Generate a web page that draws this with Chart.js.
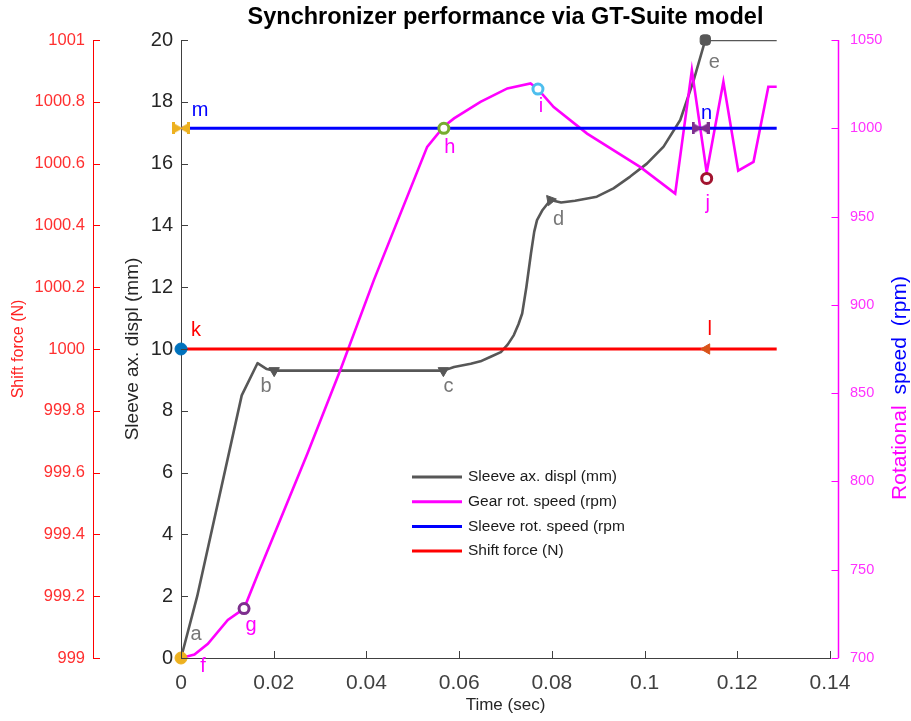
<!DOCTYPE html>
<html><head><meta charset="utf-8">
<script src="https://cdn.jsdelivr.net/npm/chart.js@4/dist/chart.umd.min.js"></script>
<style>html,body{margin:0;padding:0;background:#fff}</style>
</head><body>
<canvas id="c" width="911" height="721"></canvas>
<script>
// ---------------- DATA ----------------
const sleeveTime  = [0, 0.0035, 0.0131, 0.0165, 0.0185, 0.0201, 0.0566, 0.0589, 0.0625, 0.0646, 0.0668, 0.0690, 0.0705, 0.0718, 0.0728, 0.0736, 0.0745, 0.0755, 0.0762, 0.0768, 0.0780, 0.0797, 0.0820, 0.0850, 0.0897, 0.0933, 0.0969, 0.1005, 0.1041, 0.1077, 0.1106, 0.1131, 0.1285];
const sleeveDispl = [0, 2.0, 8.5, 9.54, 9.35, 9.3, 9.3, 9.42, 9.52, 9.6, 9.75, 9.9, 10.15, 10.45, 10.8, 11.15, 12.0, 13.1, 13.8, 14.17, 14.5, 14.82, 14.74, 14.8, 14.93, 15.2, 15.58, 16.0, 16.55, 17.41, 18.7, 20.0, 20.0];

const gearTime  = [0, 0.0029, 0.0058, 0.0101, 0.0136, 0.0165, 0.0201, 0.0273, 0.0345, 0.0416, 0.0531, 0.0567, 0.0589, 0.0646, 0.0704, 0.0754, 0.0770, 0.0804, 0.0876, 0.0991, 0.1066, 0.1102, 0.1134, 0.1170, 0.1202, 0.1235, 0.1267, 0.1285];
const gearSpeed = [700, 702, 708, 721.5, 728, 747, 770, 816, 864, 914, 989.5, 1001, 1005.6, 1015, 1022.6, 1025.4, 1022.2, 1012, 997, 978, 963, 1033, 975, 1026.3, 976, 981, 1023.5, 1023.5];

const sleeveSpeedTime = [0, 0.1285];
const sleeveSpeed     = [1000, 1000];

const shiftForceTime = [0, 0.1285];
const shiftForce     = [1000, 1000];

// annotated points: label, time, value, axis
const markerLabels = ['a', 'f', 'b', 'c', 'd', 'e', 'g', 'h', 'i', 'j', 'k', 'l', 'm', 'n'];
const markerTime   = [0, 0, 0.0201, 0.0566, 0.0797, 0.1131, 0.0136, 0.0567, 0.0770, 0.1134, 0, 0.1134, 0, 0.1121];
const markerValue  = [0, 700, 9.3, 9.3, 14.82, 20, 728, 1000, 1022.2, 971.6, 1000, 1000, 1000, 1000];
const markerAxis   = ['yL', 'yR', 'yL', 'yL', 'yL', 'yL', 'yR', 'yR', 'yR', 'yR', 'yF', 'yF', 'yR', 'yR'];

const legendLabels = ['Sleeve ax. displ (mm)', 'Gear rot. speed (rpm)', 'Sleeve rot. speed (rpm', 'Shift force (N)'];

// ---------------- STYLES ----------------
const GRAY = '#575757', MAG = '#ff00ff', BLUE = '#0000ff', RED = '#ff0000';
function bowtie(color){
  const c = document.createElement('canvas'); c.width = 18; c.height = 12;
  const g = c.getContext('2d'); g.fillStyle = color;
  g.beginPath(); g.moveTo(0,0); g.lineTo(9,5); g.lineTo(18,0); g.lineTo(18,12); g.lineTo(9,7); g.lineTo(0,12); g.closePath(); g.fill();
  g.fillRect(0,0,3,12); g.fillRect(15,0,3,12);
  return c;
}
const markerStyle = {
  a: {style:'circle', radius:0, color:'#EDB120', fill:'#EDB120', dx:15, dy:-24, tc:'#777777'},
  f: {style:'circle', radius:6, color:'#EDB120', fill:'#EDB120', dx:22, dy:8, tc:MAG},
  b: {style:'triangle', rot:180, radius:6, color:GRAY, fill:GRAY, dx:-8, dy:16, tc:'#777777'},
  c: {style:'triangle', rot:180, radius:6, color:GRAY, fill:GRAY, dx:5, dy:16, tc:'#777777'},
  d: {style:'triangle', rot:200, radius:6, color:GRAY, fill:GRAY, dx:8, dy:19, tc:'#777777'},
  e: {style:'rectRounded', radius:6, color:GRAY, fill:GRAY, dx:9, dy:22, tc:'#777777'},
  g: {style:'circle', radius:5, color:'#7E2F8E', fill:'#ffffff', bw:3, dx:7, dy:17, tc:MAG},
  h: {style:'circle', radius:5, color:'#77AC30', fill:'#ffffff', bw:3, dx:6, dy:19, tc:MAG},
  i: {style:'circle', radius:5, color:'#4DBEEE', fill:'#ffffff', bw:3, dx:3, dy:17, tc:MAG},
  j: {style:'circle', radius:5, color:'#A2142F', fill:'#ffffff', bw:3, dx:1, dy:25, tc:MAG},
  k: {style:'circle', radius:6, color:'#0072BD', fill:'#0072BD', dx:15, dy:-19, tc:RED},
  l: {style:'triangle', rot:-90, radius:6, color:'#D95319', fill:'#D95319', dx:3, dy:-20, tc:RED},
  m: {style:bowtie('#EDB120'), radius:8, color:'#EDB120', fill:'#EDB120', dx:19, dy:-18, tc:BLUE},
  n: {style:bowtie('#7E2F8E'), radius:8, color:'#7E2F8E', fill:'#7E2F8E', dx:6, dy:-15, tc:BLUE}
};

const zip = (xs, ys) => xs.map((x,i)=>({x, y: ys[i]}));

const datasets = [
  {label: legendLabels[0], data: zip(sleeveTime, sleeveDispl), yAxisID:'yL', showLine:true, borderColor:GRAY, borderWidth:2.6, pointRadius:0, tension:0, borderJoinStyle:'round', order:4},
  {label: legendLabels[1], data: zip(gearTime, gearSpeed), yAxisID:'yR', showLine:true, borderColor:MAG, borderWidth:2.6, pointRadius:0, tension:0, order:3},
  {label: legendLabels[2], data: zip(sleeveSpeedTime, sleeveSpeed), yAxisID:'yR', showLine:true, borderColor:BLUE, borderWidth:3, pointRadius:0, order:2},
  {label: legendLabels[3], data: zip(shiftForceTime, shiftForce), yAxisID:'yF', showLine:true, borderColor:RED, borderWidth:3, pointRadius:0, order:1}
];
markerLabels.forEach((lab, i) => {
  const s = markerStyle[lab];
  datasets.push({label: 'pt-' + lab, data:[{x:markerTime[i], y:markerValue[i]}], yAxisID:markerAxis[i],
    showLine:false, clip:false, pointStyle:s.style, pointRotation:s.rot||0, pointRadius:s.radius, pointBorderColor:s.color,
    pointBackgroundColor:s.fill, pointBorderWidth:s.bw||1, order:0});
});

// ---------------- PLUGINS ----------------
const decor = {
  id:'decor',
  afterDraw(chart){
    const ctx = chart.ctx, ca = chart.chartArea, L = 7;
    ctx.save();
    const sx = chart.scales.x;
    ctx.lineWidth = 1; ctx.strokeStyle = '#404040';
    sx.ticks.forEach(t=>{const p=Math.round(sx.getPixelForValue(t.value))+0.5; ctx.beginPath(); ctx.moveTo(p,ca.bottom); ctx.lineTo(p,ca.bottom-L); ctx.stroke();});
    const sl = chart.scales.yL;
    sl.ticks.forEach(t=>{const p=Math.round(sl.getPixelForValue(t.value))+0.5; ctx.beginPath(); ctx.moveTo(ca.left,p); ctx.lineTo(ca.left+L,p); ctx.stroke();});
    const sf = chart.scales.yF;
    ctx.strokeStyle = RED;
    sf.ticks.forEach(t=>{const p=Math.round(sf.getPixelForValue(t.value))+0.5; ctx.beginPath(); ctx.moveTo(sf.right,p); ctx.lineTo(sf.right+L,p); ctx.stroke();});
    const sr = chart.scales.yR, rx = ca.right + 8.5;
    ctx.strokeStyle = MAG; ctx.lineWidth = 1.5;
    ctx.beginPath(); ctx.moveTo(rx, sr.getPixelForValue(1050)); ctx.lineTo(rx, sr.getPixelForValue(700)); ctx.stroke();
    ctx.lineWidth = 1;
    sr.ticks.forEach(t=>{const p=Math.round(sr.getPixelForValue(t.value))+0.5; ctx.beginPath(); ctx.moveTo(rx,p); ctx.lineTo(rx-L,p); ctx.stroke();});
    // right axis title (two colours)
    ctx.font = '21px "Liberation Sans", Arial, sans-serif';
    ctx.translate(900, 388); ctx.rotate(-Math.PI/2);
    ctx.textBaseline = 'middle'; ctx.textAlign = 'left';
    const p1 = 'Rotational', p2 = 'speed', p3 = '(rpm)', gap = 11;
    const w1 = ctx.measureText(p1).width, w2 = ctx.measureText(p2).width, w3 = ctx.measureText(p3).width;
    let x0 = -(w1+w2+w3+2*gap)/2;
    ctx.fillStyle = MAG; ctx.fillText(p1, x0, 0); x0 += w1 + gap;
    ctx.fillStyle = BLUE; ctx.fillText(p2, x0, 0); x0 += w2 + gap;
    ctx.fillText(p3, x0, 0);
    ctx.restore();

    ctx.save();
    ctx.font = '20px "Liberation Sans", Arial, sans-serif';
    ctx.textAlign = 'center'; ctx.textBaseline = 'middle';
    markerLabels.forEach((lab,i)=>{
      const s = markerStyle[lab];
      const px = sx.getPixelForValue(markerTime[i]);
      const py = chart.scales[markerAxis[i]].getPixelForValue(markerValue[i]);
      ctx.fillStyle = s.tc; ctx.fillText(lab, px + s.dx, py + s.dy);
    });
    ctx.restore();

    ctx.save();
    const cols = [GRAY, MAG, BLUE, RED];
    ctx.font = '15.5px "Liberation Sans", Arial, sans-serif';
    ctx.textBaseline = 'middle'; ctx.textAlign = 'left';
    legendLabels.forEach((t,i)=>{
      const y = 477 + i*24.7;
      ctx.strokeStyle = cols[i]; ctx.lineWidth = 3;
      ctx.beginPath(); ctx.moveTo(412, y); ctx.lineTo(462, y); ctx.stroke();
      ctx.fillStyle = '#1a1a1a'; ctx.fillText(t, 468, y);
    });
    ctx.restore();
  }
};

const FONT = '"Liberation Sans", Arial, sans-serif';
new Chart(document.getElementById('c'), {
  type:'scatter',
  data:{datasets},
  options:{
    responsive:false, animation:false, devicePixelRatio:1,
    layout:{padding:0},
    plugins:{
      legend:{display:false}, tooltip:{enabled:false},
      title:{display:true, fullSize:false, text:'Synchronizer performance via GT-Suite model', color:'#000',
        font:{family:FONT, size:23.5, weight:'bold', lineHeight:1.2}, padding:{top:3, bottom:8.8}}
    },
    elements:{line:{fill:false}},
    scales:{
      x:{type:'linear', min:0, max:0.14, position:'bottom',
        ticks:{stepSize:0.02, color:'#404040', font:{family:FONT, size:21}, padding:5, maxRotation:0,
          callback:v=>String(Math.round(v*100)/100)},
        grid:{display:false}, border:{color:'#404040', width:1},
        title:{display:true, text:'Time (sec)', color:'#262626', font:{family:FONT, size:17}, padding:{bottom:5}},
        afterFit:s=>{s.height=63;}},
      yF:{type:'linear', position:'left', weight:2, min:999, max:1001,
        ticks:{stepSize:0.2, color:'#ff3030', font:{family:FONT, size:16.5}, padding:0,
          callback:v=>String(Math.round(v*10)/10)},
        grid:{display:false}, border:{color:RED, width:1},
        title:{display:true, text:'Shift force (N)', color:'#ff2020', font:{family:FONT, size:16}, padding:{top:9}},
        afterFit:s=>{s.width=93;}},
      yL:{type:'linear', position:'left', weight:1, min:0, max:20,
        ticks:{stepSize:2, color:'#262626', font:{family:FONT, size:20}, padding:0},
        grid:{display:false}, border:{color:'#404040', width:1},
        title:{display:true, text:'Sleeve ax. displ (mm)', color:'#262626', font:{family:FONT, size:19}, padding:{top:28}},
        afterFit:s=>{s.width=88;}},
      yR:{type:'linear', position:'right', min:700, max:1050,
        ticks:{stepSize:50, color:'#ff33ff', font:{family:FONT, size:14.5}, padding:12,
          callback:v=>String(v)},
        grid:{display:false}, border:{display:false},
        afterFit:s=>{s.width=81;}}
    }
  },
  plugins:[decor]
});
</script>
</body></html>
